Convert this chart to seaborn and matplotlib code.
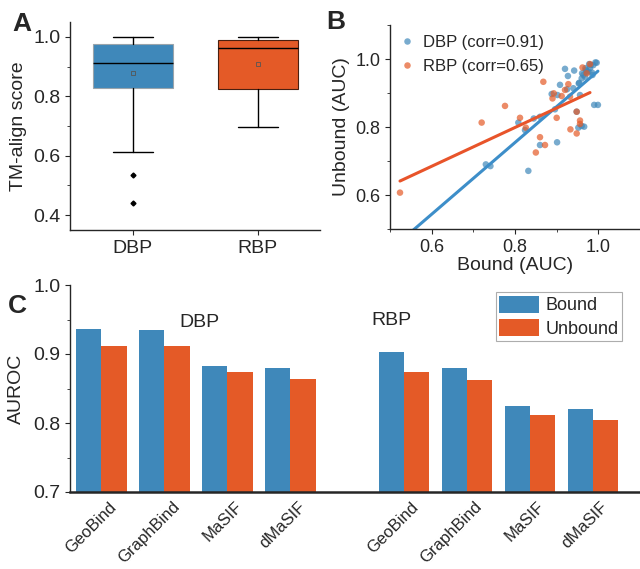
import numpy as np
import pandas as pd
import matplotlib
matplotlib.use("Agg")
import matplotlib.pyplot as plt
from matplotlib.ticker import MultipleLocator
import seaborn as sns

# ---------------- panel A : TM-align score (box stats)
box_groups = ["DBP", "RBP"]
box_q1 = [0.828, 0.825]
box_med = [0.912, 0.962]
box_q3 = [0.976, 0.989]
box_lo = [0.613, 0.697]
box_hi = [1.000, 1.000]
box_mean = [0.878, 0.907]
box_fliers = [[0.536, 0.441], []]

# ---------------- panel B : bound vs unbound AUC per protein
dbp_bound = [0.996, 0.982, 0.969, 0.976, 0.961, 0.986, 0.968, 0.920, 0.927, 0.908,
             0.925, 0.940, 0.953, 0.902, 0.888, 0.956, 0.990, 0.999, 0.948, 0.896,
             0.860, 0.808, 0.824, 0.960, 0.966, 0.860, 0.901, 0.952, 0.730, 0.741,
             0.832, 0.845, 0.988, 0.980, 0.972, 0.964, 0.960, 0.942, 0.954,
             0.993, 0.978, 0.970, 0.985]
dbp_unbound = [0.989, 0.982, 0.973, 0.963, 0.958, 0.953, 0.948, 0.971, 0.950, 0.924,
               0.911, 0.914, 0.928, 0.894, 0.897, 0.894, 0.865, 0.865, 0.845, 0.852,
               0.830, 0.813, 0.791, 0.803, 0.801, 0.747, 0.755, 0.798, 0.690, 0.685,
               0.671, 0.825, 0.982, 0.973, 0.963, 0.953, 0.943, 0.966, 0.930,
               0.990, 0.985, 0.968, 0.960]
rbp_bound = [0.980, 0.962, 0.972, 0.868, 0.928, 0.920, 0.893, 0.890, 0.912, 0.932,
             0.776, 0.948, 0.900, 0.956, 0.956, 0.812, 0.826, 0.933, 0.948, 0.860,
             0.872, 0.850, 0.720, 0.524]
rbp_unbound = [0.985, 0.975, 0.958, 0.933, 0.926, 0.909, 0.899, 0.884, 0.891, 0.889,
               0.862, 0.845, 0.827, 0.819, 0.809, 0.827, 0.798, 0.793, 0.781, 0.770,
               0.747, 0.725, 0.813, 0.607]
corr_labels = ["DBP (corr=0.91)", "RBP (corr=0.65)"]

# ---------------- panel C : AUROC of each method
methods = ["GeoBind", "GraphBind", "MaSIF", "dMaSIF"]
dbp_auroc_bound = [0.936, 0.935, 0.883, 0.880]
dbp_auroc_unbound = [0.912, 0.912, 0.874, 0.864]
rbp_auroc_bound = [0.903, 0.879, 0.824, 0.820]
rbp_auroc_unbound = [0.874, 0.862, 0.812, 0.804]
states = ["Bound", "Unbound"]

blue = "#3f88ba"
orange = "#e45a27"
line_blue = "#3d8ec9"
line_orange = "#e8542a"

sns.set_style("ticks")
plt.rcParams["font.family"] = ["Liberation Sans", "DejaVu Sans"]
plt.rcParams["axes.linewidth"] = 1.0
plt.rcParams["xtick.major.size"] = 3.5
plt.rcParams["ytick.major.size"] = 3.5
plt.rcParams["xtick.minor.size"] = 2.2
plt.rcParams["ytick.minor.size"] = 2.2

fig = plt.figure(figsize=(6.4, 5.69), dpi=100)
W, H = 640, 569
axA = fig.add_axes([70 / W, 1 - 230 / H, 250 / W, 208 / H])
axB = fig.add_axes([390 / W, 1 - 229 / H, 250 / W, 204 / H])
axC = fig.add_axes([70 / W, 1 - 492 / H, 570 / W, 207 / H])

# ---------- A
stats = []
for i, g in enumerate(box_groups):
    stats.append(dict(label=g, q1=box_q1[i], med=box_med[i], q3=box_q3[i],
                      whislo=box_lo[i], whishi=box_hi[i], mean=box_mean[i],
                      fliers=box_fliers[i]))
bp = axA.bxp(stats, positions=[0, 1], widths=0.64, patch_artist=True, showmeans=True,
             medianprops=dict(color="k", lw=1.0),
             whiskerprops=dict(color="k", lw=1.0),
             capprops=dict(color="k", lw=1.0),
             boxprops=dict(lw=0.8),
             flierprops=dict(marker="D", markersize=2.5, markerfacecolor="k",
                             markeredgecolor="k"),
             meanprops=dict(marker="s", markersize=3, markerfacecolor="none",
                            markeredgewidth=0.6))
for patch, m, c, ec in zip(bp["boxes"], bp["means"], [blue, orange], ["#9aa4ab", "#4a2010"]):
    patch.set_facecolor(c)
    patch.set_edgecolor(ec)
    m.set_markeredgecolor("#555555")
axA.set_xlim(-0.5, 1.5)
axA.set_ylim(0.35, 1.05)
axA.yaxis.set_major_locator(MultipleLocator(0.2))
axA.yaxis.set_minor_locator(MultipleLocator(0.1))
axA.set_ylabel("TM-align score", fontsize=14, labelpad=4)
axA.tick_params(labelsize=14)
sns.despine(ax=axA)

# ---------- B
df_b = pd.DataFrame({
    "bound": dbp_bound + rbp_bound,
    "unbound": dbp_unbound + rbp_unbound,
    "group": [corr_labels[0]] * len(dbp_bound) + [corr_labels[1]] * len(rbp_bound),
})
sns.scatterplot(data=df_b, x="bound", y="unbound", hue="group",
                palette=[blue, orange], s=22, alpha=0.7, linewidth=0, ax=axB)
x_min = df_b["bound"].min()
for xs, ys, c in [(dbp_bound, dbp_unbound, line_blue), (rbp_bound, rbp_unbound, line_orange)]:
    k, b = np.polyfit(xs, ys, 1)
    xx = np.linspace(x_min, max(xs), 50)
    sns.lineplot(x=xx, y=k * xx + b, color=c, lw=2.2, ax=axB, legend=False)
axB.set_xlim(0.5, 1.1)
axB.set_ylim(0.5, 1.1)
for a in (axB.xaxis, axB.yaxis):
    a.set_major_locator(MultipleLocator(0.2))
    a.set_minor_locator(MultipleLocator(0.1))
axB.set_xlabel("Bound (AUC)", fontsize=14, labelpad=1)
axB.set_ylabel("Unbound (AUC)", fontsize=14, labelpad=4)
axB.tick_params(labelsize=13)
sns.move_legend(axB, "upper left", bbox_to_anchor=(-0.04, 1.0), title=None,
                frameon=False, fontsize=12, handletextpad=0.0, labelspacing=0.55,
                borderaxespad=0.2)
sns.despine(ax=axB)

# ---------- C
pos = list(np.arange(4)) + list(np.arange(4) + 4.8)
rows = []
for p, m, vb, vu in zip(pos, methods * 2,
                        dbp_auroc_bound + rbp_auroc_bound,
                        dbp_auroc_unbound + rbp_auroc_unbound):
    rows.append((p, m, states[0], vb))
    rows.append((p, m, states[1], vu))
df_c = pd.DataFrame(rows, columns=["pos", "method", "state", "auroc"])
sns.barplot(data=df_c, x="pos", y="auroc", hue="state", native_scale=True,
            palette=[blue, orange], saturation=1, errorbar=None, width=0.8,
            linewidth=0, ax=axC)
axC.set_xlim(-0.5, 8.55)
axC.set_ylim(0.7, 1.0)
axC.yaxis.set_major_locator(MultipleLocator(0.1))
axC.yaxis.set_minor_locator(MultipleLocator(0.05))
# labels sit a little right of the group centre, as in the original
axC.set_xticks([p + 0.2 for p in pos])
axC.set_xticklabels(methods * 2, rotation=45, ha="right", va="center",
                    rotation_mode="anchor", fontsize=12)
axC.tick_params(axis="x", length=0, pad=9)
axC.tick_params(axis="y", labelsize=14)
axC.set_xlabel("")
axC.set_ylabel("AUROC", fontsize=14, labelpad=6)
axC.spines["bottom"].set_linewidth(1.8)
axC.text(1.56, 0.945, "DBP", fontsize=14, ha="center", va="center")
axC.text(4.6, 0.949, "RBP", fontsize=14, ha="center", va="center")
sns.move_legend(axC, "upper right", bbox_to_anchor=(622 / W, 1 - 292 / H),
                bbox_transform=fig.transFigure, title=None, frameon=True,
                fancybox=False, edgecolor="#999999", fontsize=13, handlelength=2.2,
                handleheight=1.1, labelspacing=0.25, handletextpad=0.35,
                borderpad=0.2, borderaxespad=0)
axC.get_legend().get_frame().set_linewidth(0.8)
sns.despine(ax=axC)

# panel letters
fig.text(12 / W, 1 - 12 / H, "A", fontsize=19, weight="bold", va="top")
fig.text(326 / W, 1 - 10 / H, "B", fontsize=19, weight="bold", va="top")
fig.text(8 / W, 1 - 294 / H, "C", fontsize=19, weight="bold", va="top")

fig.savefig("out.png", dpi=100)
